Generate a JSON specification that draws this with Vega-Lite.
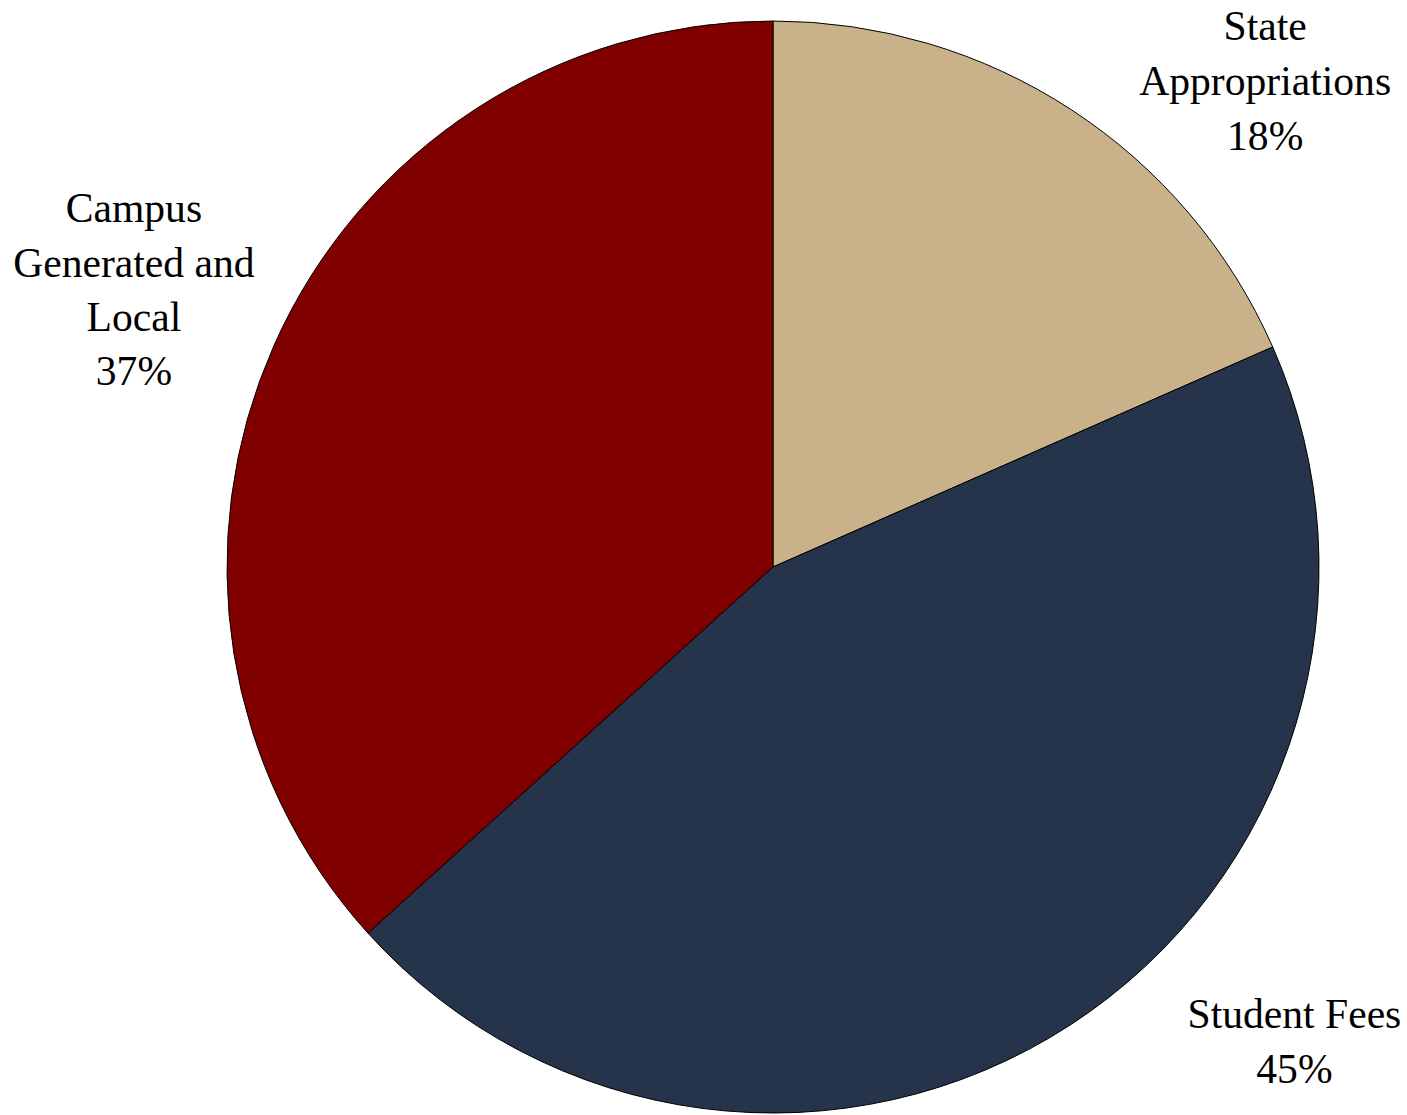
{
  "$schema": "https://vega.github.io/schema/vega-lite/v6.json",
  "autosize": "none",
  "width": 1268,
  "height": 1094,
  "padding": {"left": 139, "top": 20, "right": 0, "bottom": 0},
  "background": "white",
  "config": {"view": {"stroke": null}},
  "data": {
    "values": [
      {"category": "State Appropriations", "value": 18.4, "order": 1, "label": "State\nAppropriations\n18%"},
      {"category": "Student Fees", "value": 44.9, "order": 2, "label": "Student Fees\n45%"},
      {"category": "Campus Generated and Local", "value": 36.7, "order": 3, "label": "Campus\nGenerated and\nLocal\n37%"}
    ]
  },
  "encoding": {
    "theta": {"field": "value", "type": "quantitative", "stack": true},
    "order": {"field": "order", "type": "quantitative", "sort": "ascending"}
  },
  "layer": [
    {
      "mark": {"type": "arc", "outerRadius": 546, "stroke": "black", "strokeWidth": 1},
      "encoding": {
        "color": {
          "field": "category",
          "type": "nominal",
          "scale": {
            "domain": ["State Appropriations", "Student Fees", "Campus Generated and Local"],
            "range": ["#C9B28A", "#25334B", "#800000"]
          },
          "legend": null
        }
      }
    },
    {
      "mark": {"type": "text", "radius": 650, "dx": 137, "dy": 5, "align": "center", "baseline": "middle", "lineBreak": "\n", "lineHeight": 55, "font": "Liberation Serif", "fontSize": 41.6, "color": "black"},
      "encoding": {
        "text": {"condition": {"test": "datum.category === 'State Appropriations'", "field": "label"}, "value": ""}
      }
    },
    {
      "mark": {"type": "text", "radius": 650, "dx": 168, "dy": -97, "align": "center", "baseline": "middle", "lineBreak": "\n", "lineHeight": 55, "font": "Liberation Serif", "fontSize": 41.6, "color": "black"},
      "encoding": {
        "text": {"condition": {"test": "datum.category === 'Student Fees'", "field": "label"}, "value": ""}
      }
    },
    {
      "mark": {"type": "text", "radius": 650, "dx": -45, "dy": -93, "align": "center", "baseline": "middle", "lineBreak": "\n", "lineHeight": 54.3, "font": "Liberation Serif", "fontSize": 41.6, "color": "black"},
      "encoding": {
        "text": {"condition": {"test": "datum.category === 'Campus Generated and Local'", "field": "label"}, "value": ""}
      }
    }
  ]
}
